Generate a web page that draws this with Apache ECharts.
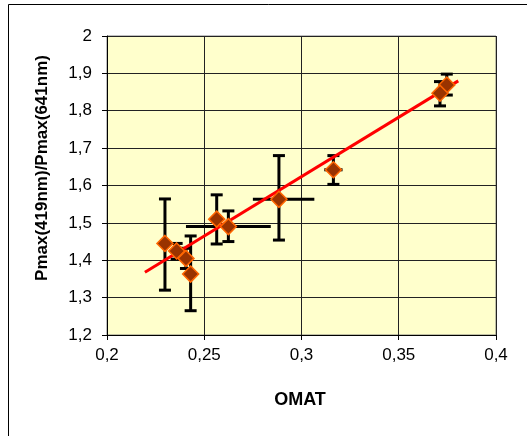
<!DOCTYPE html>
<html>
<head>
<meta charset="utf-8">
<script src="https://cdn.jsdelivr.net/npm/echarts@6/dist/echarts.min.js"></script>
<style>
  html, body { margin: 0; padding: 0; background: #fff; }
  #chart { width: 527px; height: 436px; }
</style>
</head>
<body>
<div id="chart"></div>
<script>
// 数据点 (OMAT, Pmax比值) 以及误差范围
const omat = [0.2298, 0.2358, 0.2406, 0.2430, 0.2564, 0.2624, 0.2884, 0.3164, 0.3747, 0.3712];
const ratio = [1.445, 1.425, 1.405, 1.363, 1.510, 1.490, 1.563, 1.642, 1.869, 1.847];
const ratioLow = [1.320, 1.403, 1.378, 1.265, 1.4435, 1.450, 1.454, 1.603, 1.842, 1.813];
const ratioHigh = [1.564, 1.445, 1.432, 1.465, 1.575, 1.532, 1.680, 1.680, 1.898, 1.878];
const omatLow = [null, null, null, null, null, 0.2406, 0.2750, 0.3117, null, null];
const omatHigh = [null, null, null, null, null, 0.2842, 0.3066, 0.3211, null, null];
// 趋势线两端
const trendX = [0.2195, 0.3806];
const trendY = [1.368, 1.880];

const fmt = (v) => String(+v.toFixed(2)).replace('.', ',');

const points = omat.map((x, i) => [x, ratio[i]]);
const bars = omat.map((x, i) => [x, ratio[i], ratioLow[i], ratioHigh[i], omatLow[i], omatHigh[i]]);
const trend = trendX.map((x, i) => [x, trendY[i]]);

const chart = echarts.init(document.getElementById('chart'));

function renderBar(params, api) {
  const c = api.coord([api.value(0), api.value(1)]);
  const lo = api.coord([api.value(0), api.value(2)]);
  const hi = api.coord([api.value(0), api.value(3)]);
  const style = { stroke: '#000', lineWidth: 3 };
  const capW = 6;
  const children = [
    { type: 'line', shape: { x1: c[0], y1: lo[1], x2: c[0], y2: hi[1] }, style },
    { type: 'line', shape: { x1: c[0] - capW, y1: lo[1], x2: c[0] + capW, y2: lo[1] }, style },
    { type: 'line', shape: { x1: c[0] - capW, y1: hi[1], x2: c[0] + capW, y2: hi[1] }, style }
  ];
  const xl = api.value(4), xh = api.value(5);
  if (!isNaN(xl) && !isNaN(xh)) {
    const l = api.coord([xl, api.value(1)]);
    const r = api.coord([xh, api.value(1)]);
    children.push({ type: 'line', shape: { x1: l[0], y1: c[1], x2: r[0], y2: c[1] }, style });
  }
  return { type: 'group', children };
}

chart.setOption({
  animation: false,
  backgroundColor: '#fff',
  grid: {
    left: 107, top: 36, width: 389, height: 299,
    show: true, backgroundColor: '#FFFFCC', borderColor: '#808080', borderWidth: 1
  },
  xAxis: {
    type: 'value', min: 0.2, max: 0.4, interval: 0.05,
    axisLine: { show: true, onZero: false, lineStyle: { color: '#000', width: 1 } },
    axisTick: { show: true, length: 5, lineStyle: { color: '#000' } },
    axisLabel: { formatter: fmt, color: '#000', fontSize: 17, fontFamily: 'Arial, Liberation Sans', margin: 12 },
    splitLine: { show: true, lineStyle: { color: '#222', width: 1 } }
  },
  yAxis: {
    type: 'value', min: 1.2, max: 2, interval: 0.1,
    axisLine: { show: true, onZero: false, lineStyle: { color: '#000', width: 1 } },
    axisTick: { show: true, length: 5, lineStyle: { color: '#000' } },
    axisLabel: { formatter: fmt, color: '#000', fontSize: 17, fontFamily: 'Arial, Liberation Sans', margin: 15 },
    splitLine: { show: true, lineStyle: { color: '#222', width: 1 } }
  },
  graphic: [
    { type: 'rect', shape: { x: 8.5, y: 4.5, width: 700, height: 700 }, style: { fill: 'none', stroke: '#000', lineWidth: 1 }, z: -10 },
    { type: 'text', x: 300, y: 400, style: { text: 'OMAT', fontSize: 18, fontWeight: 'bold', fontFamily: 'Arial, Liberation Sans', fill: '#000', align: 'center', verticalAlign: 'middle' } },
    { type: 'text', x: 42, y: 168, rotation: Math.PI / 2, style: { text: 'Pmax(419nm)/Pmax(641nm)', fontSize: 17, fontWeight: 'bold', fontFamily: 'Arial, Liberation Sans', fill: '#000', align: 'center', verticalAlign: 'middle' } }
  ],
  series: [
    { type: 'custom', data: bars, renderItem: renderBar, z: 2, silent: true },
    {
      type: 'line', data: trend, symbol: 'none', z: 3, silent: true,
      lineStyle: { color: '#FF0000', width: 3 }
    },
    {
      type: 'scatter', data: points, symbol: 'diamond', symbolSize: 16, z: 4,
      itemStyle: { color: '#993300', borderColor: '#FF6600', borderWidth: 1.5, opacity: 1 }
    }
  ]
});
</script>
</body>
</html>
